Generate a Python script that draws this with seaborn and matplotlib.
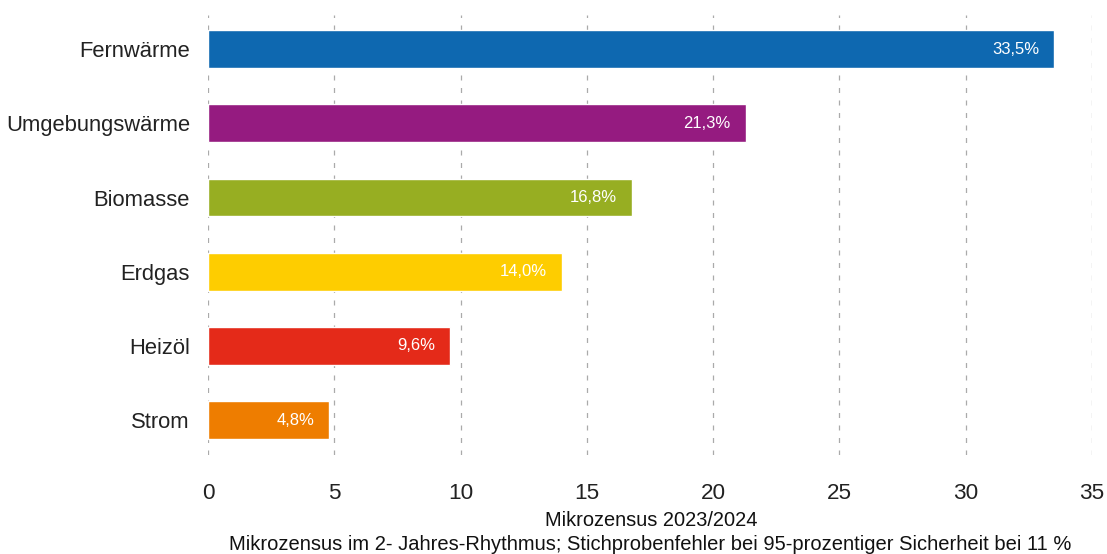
import matplotlib
matplotlib.use("Agg")
import matplotlib.pyplot as plt
import seaborn as sns
import pandas as pd

categories = ["Fernwärme", "Umgebungswärme", "Biomasse", "Erdgas", "Heizöl", "Strom"]
values = [33.5, 21.3, 16.8, 14.0, 9.6, 4.8]
colors = ["#0E68B0", "#951B80", "#97AE22", "#FECD00", "#E42A19", "#EE7D00"]
xticks = [0, 5, 10, 15, 20, 25, 30, 35]
xlabel = "Mikrozensus 2023/2024"
note = "Mikrozensus im 2- Jahres-Rhythmus; Stichprobenfehler bei 95-prozentiger Sicherheit bei 11 %"

sns.set_theme(style="white")
plt.rcParams["font.family"] = ["Liberation Sans", "DejaVu Sans"]

df = pd.DataFrame({"cat": categories, "val": values})

fig = plt.figure(figsize=(11.07, 5.54), dpi=100)
ax = fig.add_axes([208/1107, 1-455/554, (1092-208)/1107, 440/554])

sns.barplot(data=df, x="val", y="cat", hue="cat", palette=colors, legend=False,
            orient="h", width=0.51, ax=ax, saturation=1, zorder=3)

ax.set_xlim(0, 35)
ax.set_ylim(5.47, -0.46)
ax.set_xticks(xticks)
ax.set_xticklabels([str(t) for t in xticks], fontsize=16.2, color="#222222")
ax.tick_params(axis="y", labelsize=15.8, colors="#222222", length=0, pad=13)
ax.tick_params(axis="x", length=0, pad=20)
ax.set_xlabel("")
ax.set_ylabel("")
for s in ax.spines.values():
    s.set_visible(False)
ax.grid(axis="x", linestyle=(0, (4, 6)), color="#aaaaaa", linewidth=0.9, zorder=0)
ax.grid(axis="y", visible=False)

for i, v in enumerate(values):
    lab = f"{v:.1f}".replace(".", ",") + "%"
    ax.text(v - 0.6, i, lab, ha="right", va="center", color="white", fontsize=12, zorder=4)

fig.text(651/1107, 1-520/554, xlabel, ha="center", va="center", fontsize=14.4, color="#111111")
fig.text(650/1107, 1-544/554, note, ha="center", va="center", fontsize=14.5, color="#111111")

fig.savefig("out.png", dpi=100, facecolor="white")
